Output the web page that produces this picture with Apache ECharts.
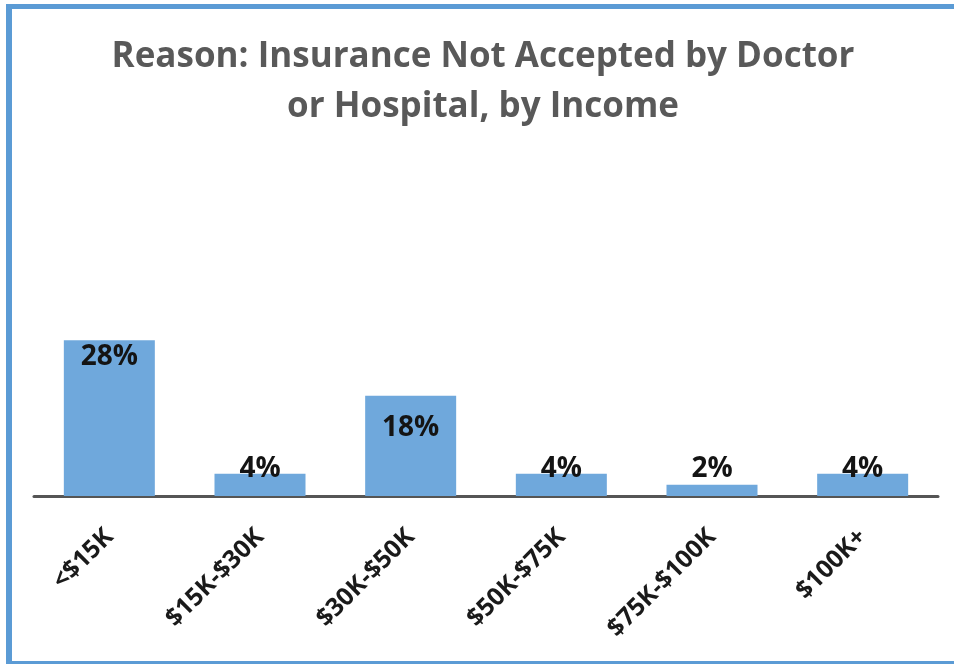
<!DOCTYPE html>
<html>
<head>
<meta charset="utf-8">
<script src="https://cdn.jsdelivr.net/npm/echarts@6/dist/echarts.min.js"></script>
<style>
    html, body {
        margin: 0;
        padding: 0;
        background: #ffffff;
    }
    #chart {
        width: 954px;
        height: 664px;
    }
</style>
</head>
<body>
<div id="chart"></div>
<script>
// data
var categories = ['<$15K', '$15K-$30K', '$30K-$50K', '$50K-$75K', '$75K-$100K', '$100K+'];
var values = [28, 4, 18, 4, 2, 4];
var yMin = 0;
var yMax = 30;

var barColor = '#6fa8dc';
var frameColor = '#5b9bd5';
var font = '"Open Sans", "Noto Sans", sans-serif';

// label placement: tall bars get the label inside the top, short ones sit above the axis
function labelFor(i) {
    if (values[i] >= 10) {
        return {
            position: 'insideTop',
            distance: i === 0 ? 3 : 18, // 数值标签离柱顶的距离
        };
    }
    return {
        position: 'insideBottom',
        distance: 13,
    };
}

var seriesData = values.map(function (v, i) {
    return { value: v, label: labelFor(i) };
});

var chart = echarts.init(document.getElementById('chart'), null, { renderer: 'canvas' });
chart.setOption({
    animation: false,
    backgroundColor: '#ffffff',
    title: {
        text: 'Reason: Insurance Not Accepted by Doctor\nor Hospital, by Income',
        left: 483,
        top: 32,
        textAlign: 'center',
        padding: 0,
        textStyle: {
            fontFamily: font,
            fontSize: 35,
            fontWeight: 'bold',
            color: '#595959',
            lineHeight: 50,
        },
    },
    grid: {
        left: 34,
        right: 16,
        top: 329,
        bottom: 168,
        containLabel: false,
    },
    xAxis: {
        type: 'category',
        data: categories,
        axisLine: {
            lineStyle: {
                color: '#555555',
                width: 3,
            },
        },
        axisTick: { show: false },
        axisLabel: {
            rotate: 45,
            margin: 37,
            interval: 0,
            fontFamily: font,
            fontSize: 25,
            fontWeight: 'bold',
            color: '#1a1a1a',
        },
    },
    yAxis: {
        type: 'value',
        min: yMin,
        max: yMax,
        show: false,
        splitLine: { show: false },
    },
    series: [
        {
            type: 'bar',
            data: seriesData,
            barWidth: 91,
            itemStyle: {
                color: barColor,
            },
            label: {
                show: true,
                formatter: '{c}%',
                fontFamily: font,
                fontSize: 28,
                fontWeight: 'bold',
                color: '#141414',
            },
        },
    ],
    graphic: [
        // blue frame round the chart
        {
            type: 'rect',
            shape: { x: 6, y: 4, width: 948, height: 5 },
            style: { fill: frameColor },
            z: 10,
        },
        {
            type: 'rect',
            shape: { x: 6, y: 4, width: 6, height: 660 },
            style: { fill: frameColor },
            z: 10,
        },
        {
            type: 'rect',
            shape: { x: 6, y: 661, width: 948, height: 3 },
            style: { fill: frameColor },
            z: 10,
        },
    ],
});
</script>
</body>
</html>
